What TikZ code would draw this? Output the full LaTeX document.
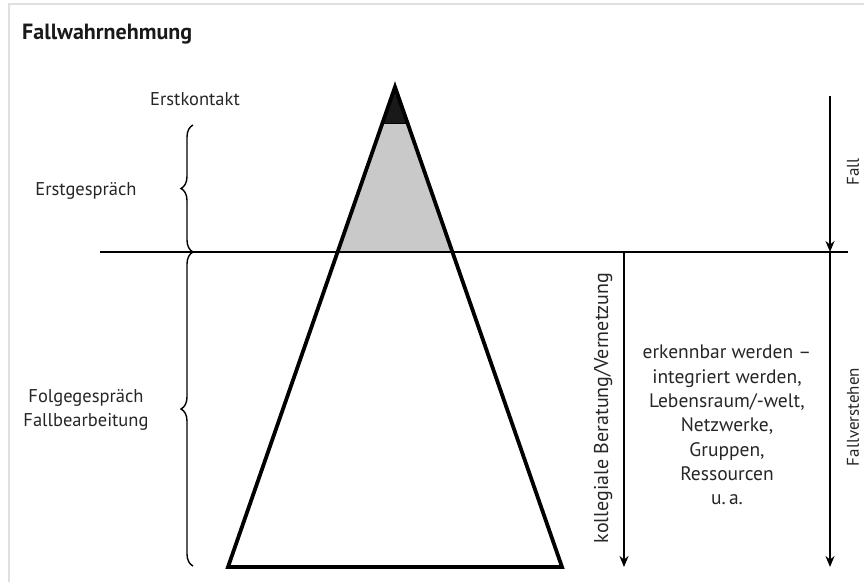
\documentclass[tikz,border=0pt]{standalone}
\usepackage{fontspec}
\setmainfont{PT Sans}
\usetikzlibrary{calc, arrows.meta, decorations.pathreplacing}

\tikzset{
    lbl/.style={font=\fontsize{19.5}{24.3}\selectfont, text=black!85, inner sep=0pt},
    links/.style={lbl, font=\fontsize{18.5}{24}\selectfont},
    seite/.style={lbl, rotate=90, font=\fontsize{17}{20}\selectfont},
    kante/.style={line width=3.8pt, line join=miter},
    pfeil/.style={line width=2.6pt, -{Stealth[length=11pt, width=9pt]}},
    klammer/.style={line width=1.4pt, decorate, decoration={brace, amplitude=12pt}}
}

\begin{document}
\begin{tikzpicture}[x=1pt, y=-1pt]
    \useasboundingbox (0,0) rectangle (864,582);
    \draw[black!12, line width=2pt] (9,582) -- (9,4) -- (864,4);

    % Dreieck
    \coordinate (apex) at (395,87);
    \coordinate (bl) at (228,567);
    \coordinate (br) at (562,567);
    \coordinate (tipL) at ($(apex)!0.077!(bl)$);
    \coordinate (tipR) at ($(apex)!0.077!(br)$);
    \coordinate (midL) at ($(apex)!0.344!(bl)$);
    \coordinate (midR) at ($(apex)!0.344!(br)$);
    \fill[black!21] (tipL) -- (tipR) -- (midR) -- (midL) -- cycle;
    \fill[black!90] (apex) -- (tipR) -- (tipL) -- cycle;
    \draw[line width=1pt] (tipL) -- (tipR);
    \draw[kante] (apex) -- (br) -- (bl) -- cycle;

    % Trennlinie
    \coordinate (lineL) at (100,252);
    \coordinate (lineR) at (848,252);
    \draw[line width=2.6pt] (lineL) -- (lineR);

    % Pfeile rechts
    \coordinate (fallTop) at (830,96);
    \coordinate (fallMid) at (830,252);
    \coordinate (fallBot) at (830,567);
    \coordinate (kollTop) at (624,252);
    \coordinate (kollBot) at (624,567);
    \draw[pfeil] (fallTop) -- (fallMid);
    \draw[pfeil] (fallMid) -- (fallBot);
    \draw[pfeil] (kollTop) -- (kollBot);

    % Klammern
    \coordinate (erstTop) at (193,125);
    \coordinate (erstBot) at (193,252);
    \coordinate (folgeBot) at (193,566);
    \draw[klammer] (erstBot) -- (erstTop);
    \draw[klammer] (folgeBot) -- (erstBot);

    % Texte
    \node[lbl, font=\fontsize{22}{24}\selectfont\bfseries, text=black!90, anchor=west] (titel) at (22,34) {Fallwahrnehmung};
    \node[links] (kontakt) at (195,99) {Erstkontakt};
    \node[links] (erst) at (86,191) {Erstgespräch};
    \node[links, align=center] (folge) at (86,410) {Folgegespräch\\Fallbearbeitung};
    \node[seite] (fall) at (853,172) {Fall};
    \node[seite] (verstehen) at (853,417) {Fallverstehen};
    \node[lbl, rotate=90, font=\fontsize{20}{24}\selectfont] (koll) at (603,408) {kollegiale Beratung/Vernetzung};
    \node[lbl, align=center] (netz) at (727,425) {erkennbar werden --\\integriert werden,\\Lebensraum/-welt,\\Netzwerke,\\Gruppen,\\Ressourcen\\u.\,a.};
\end{tikzpicture}
\end{document}
